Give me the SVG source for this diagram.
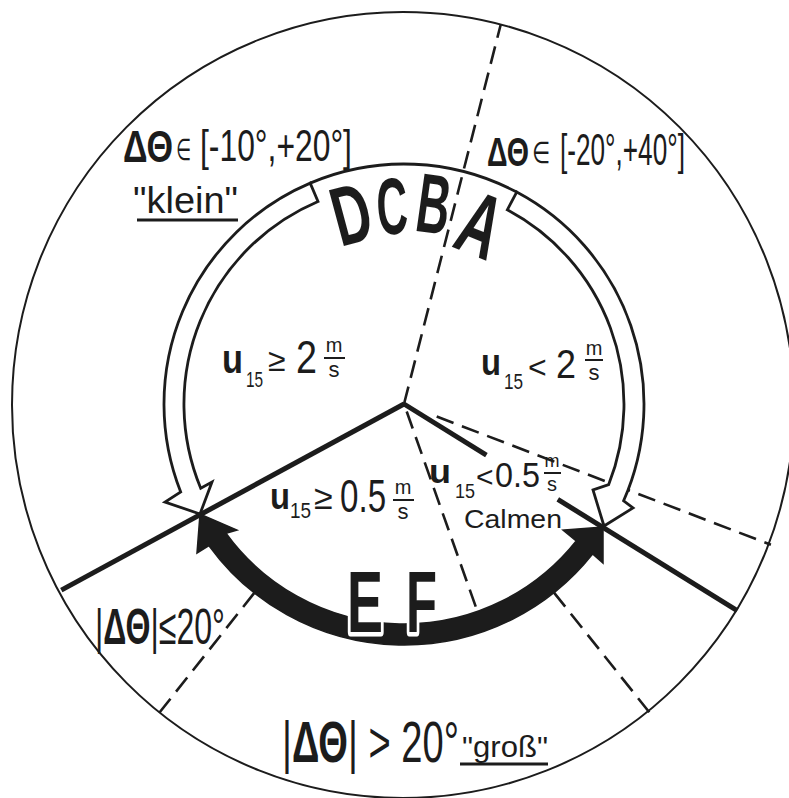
<svg xmlns="http://www.w3.org/2000/svg" width="789" height="798" viewBox="0 0 789 798">
<defs>
<style>
.ink{stroke:#1c1c1c;fill:none}
.outer{stroke-width:2}
.arc{stroke-width:2.8}
.solid{stroke-width:5}
.dash{stroke-width:2.6;stroke-dasharray:18 9}
.warrow{fill:#fff;stroke:#1c1c1c;stroke-width:2.8;stroke-linejoin:miter}
.barrow{fill:#1c1c1c;stroke:#1c1c1c;stroke-width:1.5;stroke-linejoin:miter}
text{font-family:"Liberation Sans","DejaVu Sans",sans-serif;fill:#1c1c1c}
.b{font-weight:bold}
.bar{stroke:#1c1c1c;stroke-width:2}
.ul{stroke:#1c1c1c;stroke-width:3}
.knock{stroke:#fff;stroke-width:9;paint-order:stroke;stroke-linejoin:round}
</style>
</defs>
<rect width="789" height="798" fill="#fff"/>

<g id="connectors">
  <ellipse class="ink outer" cx="403" cy="405" rx="391" ry="393"/>
  <line class="ink dash" x1="404" y1="404" x2="500.8" y2="24.2"/>
  <line class="ink dash" x1="436.7" y1="416.5" x2="770.9" y2="544.8"/>
  <line class="ink dash" x1="406.7" y1="411.5" x2="477.4" y2="611.4"/>
  <line class="ink dash" x1="554" y1="592.6" x2="649.3" y2="712.3"/>
  <line class="ink dash" x1="254.3" y1="592.9" x2="159.3" y2="712.8"/>
  <path class="ink arc" d="M310.2,183.1 A240,240 0 0 1 516.7,192.1"/>
</g>

<g id="arrow-left-white">
  <path class="warrow" d="M310.2,183.1 A240,240 0 0 0 180.7,492 L165,502 L200,514 L212,482 L200.7,488.2 A220,220 0 0 1 318,201.5 Z"/>
</g>
<g id="arrow-right-white">
  <path class="warrow" d="M516.7,192.1 A240,240 0 0 1 623.6,500.8 L633,508 L604,526 L593,490 L608.7,484.6 A220,220 0 0 0 507.3,209.8 Z"/>
</g>
<g id="arrow-EF">
  <path class="barrow" d="M592.6,554 L603,563 L603,527 L563,530 L576.2,541 A220,220 0 0 1 226,533.3 L237,530 L200,514 L197,553 L209,545.7 A241,241 0 0 0 592.6,554 Z"/>
  <text class="b knock" transform="translate(347,632) scale(0.613,1)" font-size="88" textLength="58.7" lengthAdjust="spacingAndGlyphs">E</text>
  <text class="b knock" transform="translate(406,632) scale(0.576,1)" font-size="88" textLength="53.8" lengthAdjust="spacingAndGlyphs">F</text>
</g>

<g id="solid-lines">
  <line class="ink solid" x1="404" y1="404" x2="61.3" y2="590.1"/>
  <line class="ink solid" x1="404" y1="404" x2="486.4" y2="455.1"/>
  <line class="ink solid" x1="557.8" y1="499.4" x2="737.2" y2="610.6"/>
</g>

<g id="node-DCBA">
  <text class="b" transform="translate(351,213) rotate(-15) scale(0.627,1)" y="30" font-size="84" text-anchor="middle" textLength="60.6" lengthAdjust="spacingAndGlyphs">D</text>
  <text class="b" transform="translate(392,205) rotate(-3) scale(0.536,1)" y="29" font-size="80" text-anchor="middle" textLength="57.8" lengthAdjust="spacingAndGlyphs">C</text>
  <text class="b" transform="translate(434,203) rotate(8) scale(0.545,1)" y="30" font-size="84" text-anchor="middle" textLength="60.6" lengthAdjust="spacingAndGlyphs">B</text>
  <text class="b" transform="translate(481,224) rotate(22) scale(0.615,1)" y="32" font-size="90" text-anchor="middle" textLength="65" lengthAdjust="spacingAndGlyphs">A</text>
</g>

<g id="label-klein">
  <text class="b" transform="translate(123,162) scale(0.76,1)" font-size="44" textLength="66" lengthAdjust="spacingAndGlyphs">ΔΘ</text>
  <text transform="translate(176,160) scale(0.75,1)" font-size="30" textLength="20" lengthAdjust="spacingAndGlyphs">∈</text>
  <text transform="translate(200,161) scale(0.65,1)" font-size="44" textLength="233.8" lengthAdjust="spacingAndGlyphs">[-10°,+20°]</text>
  <text x="133" y="213" font-size="36" textLength="105" lengthAdjust="spacingAndGlyphs">"klein"</text>
  <line class="ul" x1="137" y1="220" x2="238" y2="220"/>
</g>

<g id="label-right-top">
  <text class="b" transform="translate(487,166) scale(0.7,1)" font-size="40" textLength="60" lengthAdjust="spacingAndGlyphs">ΔΘ</text>
  <text transform="translate(532,163) scale(0.9,1)" font-size="30" textLength="20" lengthAdjust="spacingAndGlyphs">∈</text>
  <text transform="translate(560,165) scale(0.535,1)" font-size="44" textLength="233.6" lengthAdjust="spacingAndGlyphs">[-20°,+40°]</text>
</g>

<g id="label-u-ge-2">
  <text x="222" y="373" font-size="40" class="b" textLength="21" lengthAdjust="spacingAndGlyphs">u</text>
  <text transform="translate(246,387) scale(0.7,1)" font-size="22" textLength="24.5" lengthAdjust="spacingAndGlyphs">15</text>
  <text x="268" y="371" font-size="32">≥</text>
  <text transform="translate(296,373) scale(0.82,1)" font-size="46" textLength="25.6" lengthAdjust="spacingAndGlyphs">2</text>
  <text x="334" y="352" font-size="20" text-anchor="middle">m</text>
  <line class="bar" x1="324" y1="358" x2="345" y2="358"/>
  <text x="334" y="377" font-size="22" text-anchor="middle">s</text>
</g>

<g id="label-u-lt-2">
  <text x="481" y="375" font-size="36" class="b" textLength="20" lengthAdjust="spacingAndGlyphs">u</text>
  <text transform="translate(504,389) scale(0.78,1)" font-size="22" textLength="24.5" lengthAdjust="spacingAndGlyphs">15</text>
  <text x="528" y="378" font-size="32">&lt;</text>
  <text transform="translate(556,378) scale(0.9,1)" font-size="40" textLength="22.2" lengthAdjust="spacingAndGlyphs">2</text>
  <text x="594" y="355" font-size="20" text-anchor="middle">m</text>
  <line class="bar" x1="585" y1="360" x2="603" y2="360"/>
  <text x="594" y="380" font-size="22" text-anchor="middle">s</text>
</g>

<g id="label-u-ge-05">
  <text x="270" y="509" font-size="36" class="b" textLength="20" lengthAdjust="spacingAndGlyphs">u</text>
  <text transform="translate(290,518) scale(0.86,1)" font-size="22" textLength="24.5" lengthAdjust="spacingAndGlyphs">15</text>
  <text x="314" y="509" font-size="34">≥</text>
  <text transform="translate(340,512) scale(0.72,1)" font-size="46" textLength="64" lengthAdjust="spacingAndGlyphs">0.5</text>
  <text x="403" y="494" font-size="20" text-anchor="middle">m</text>
  <line class="bar" x1="393" y1="500" x2="414" y2="500"/>
  <text x="403" y="519" font-size="22" text-anchor="middle">s</text>
</g>

<g id="label-calmen">
  <text x="429" y="483" font-size="34" class="b" textLength="22" lengthAdjust="spacingAndGlyphs">u</text>
  <text transform="translate(455,498) scale(0.9,1)" font-size="20" textLength="22.2" lengthAdjust="spacingAndGlyphs">15</text>
  <text x="476" y="487" font-size="30">&lt;</text>
  <text transform="translate(495,487) scale(0.9,1)" font-size="36" textLength="50" lengthAdjust="spacingAndGlyphs">0.5</text>
  <text x="552" y="467" font-size="18" text-anchor="middle">m</text>
  <line class="bar" x1="544" y1="473" x2="561" y2="473"/>
  <text x="552" y="491" font-size="20" text-anchor="middle">s</text>
  <text x="464" y="528" font-size="26" textLength="98" lengthAdjust="spacingAndGlyphs">Calmen</text>
</g>

<g id="label-small-angle">
  <text transform="translate(95,644) scale(0.64,1)" font-size="50" textLength="203" lengthAdjust="spacingAndGlyphs">|<tspan class="b">ΔΘ</tspan>|≤20°</text>
</g>

<g id="label-gross">
  <text transform="translate(282,762) scale(0.66,1)" font-size="58" textLength="268" lengthAdjust="spacingAndGlyphs">|<tspan class="b">ΔΘ</tspan>| &gt; 20°</text>
  <text x="462" y="757" font-size="30" textLength="86" lengthAdjust="spacingAndGlyphs">"groß"</text>
  <line class="ul" x1="460" y1="764" x2="548" y2="764"/>
</g>
</svg>
